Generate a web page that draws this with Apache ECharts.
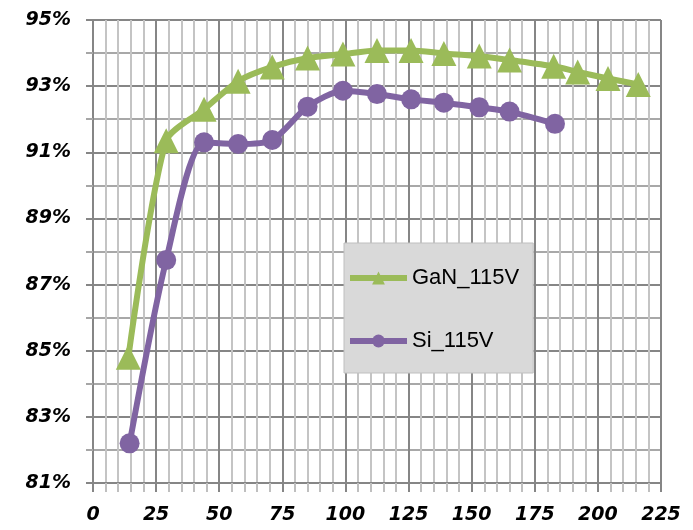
<!DOCTYPE html>
<html>
<head>
<meta charset="utf-8">
<script src="https://cdn.jsdelivr.net/npm/echarts@6/dist/echarts.min.js"></script>
<style>
  html, body { margin: 0; padding: 0; background: #ffffff; }
  #chart { width: 693px; height: 530px; }
</style>
</head>
<body>
<div id="chart"></div>
<script>
// Output power (W) at each measured load step
const ganLoad = [14, 29, 44, 57.5, 71, 85, 99, 112.5, 126, 139, 153, 165, 182.5, 192, 204, 216];
const siLoad  = [14.5, 29, 44, 57.5, 71, 85, 99, 112.5, 126, 139, 153, 165, 183];

// Efficiency (%) for each converter
const ganEff = [84.8, 91.35, 92.3, 93.15, 93.58, 93.85, 93.97, 94.08, 94.08, 93.99, 93.91, 93.79, 93.6, 93.43, 93.23, 93.05];
const siEff  = [82.2, 87.74, 91.3, 91.25, 91.37, 92.38, 92.86, 92.76, 92.6, 92.5, 92.36, 92.23, 91.86];

const seriesNames = ['GaN_115V', 'Si_115V'];
const xTicks = { min: 0, max: 225, step: 25 };
const yTicks = { min: 81, max: 95, step: 2 };

const pairs = (xs, ys) => xs.map((x, i) => [x, ys[i]]);

const labelFont = {
  color: '#000000',
  fontFamily: 'DejaVu Sans',
  fontWeight: 'bold',
  fontStyle: 'italic',
  fontSize: 19
};

const chart = echarts.init(document.getElementById('chart'), null, { renderer: 'canvas' });

chart.setOption({
  animation: false,
  backgroundColor: '#ffffff',
  grid: { left: 93, top: 20, right: 32, bottom: 47, containLabel: false },
  legend: {
    orient: 'vertical',
    left: 344,
    top: 243,
    data: seriesNames,
    itemWidth: 57,
    itemHeight: 16,
    itemGap: 41,
    padding: [24, 14, 21, 3],
    backgroundColor: '#d9d9d9',
    borderColor: '#bfbfbf',
    borderWidth: 1,
    borderRadius: 0,
    lineStyle: { width: 6 },
    textStyle: {
      color: '#000000',
      fontFamily: 'Liberation Sans',
      fontSize: 22
    }
  },
  xAxis: {
    type: 'value',
    min: xTicks.min,
    max: xTicks.max,
    interval: xTicks.step,
    axisLine: { show: true, lineStyle: { color: '#868686', width: 2 } },
    axisTick: { show: true, length: 9, lineStyle: { color: '#868686', width: 2 } },
    minorTick: { show: true, splitNumber: 5, length: 9, lineStyle: { color: '#bfbfbf', width: 2 } },
    splitLine: { show: true, lineStyle: { color: '#868686', width: 2 } },
    minorSplitLine: { show: true, lineStyle: { color: '#c4c4c4', width: 2 } },
    axisLabel: Object.assign({ margin: 23 }, labelFont)
  },
  yAxis: {
    type: 'value',
    min: yTicks.min,
    max: yTicks.max,
    interval: yTicks.step,
    axisLine: { show: true, lineStyle: { color: '#868686', width: 2 } },
    axisTick: { show: true, length: 7, lineStyle: { color: '#868686', width: 2 } },
    minorTick: { show: true, splitNumber: 2, length: 7, lineStyle: { color: '#a6a6a6', width: 2 } },
    splitLine: { show: true, lineStyle: { color: '#868686', width: 2 } },
    minorSplitLine: { show: true, lineStyle: { color: '#a8a8a8', width: 2 } },
    axisLabel: Object.assign({ margin: 22, formatter: v => v + '%' }, labelFont)
  },
  series: [
    {
      name: seriesNames[0],
      type: 'line',
      data: pairs(ganLoad, ganEff),
      symbol: 'triangle',
      symbolSize: 25,
      smooth: 0.25,
      color: '#9bbb59',
      lineStyle: { color: '#9bbb59', width: 6 },
      itemStyle: { color: '#9bbb59' },
      z: 3
    },
    {
      name: seriesNames[1],
      type: 'line',
      data: pairs(siLoad, siEff),
      symbol: 'circle',
      symbolSize: 20,
      smooth: 0.25,
      color: '#8064a2',
      lineStyle: { color: '#8064a2', width: 6 },
      itemStyle: { color: '#8064a2' },
      z: 4
    }
  ]
});
</script>
</body>
</html>
